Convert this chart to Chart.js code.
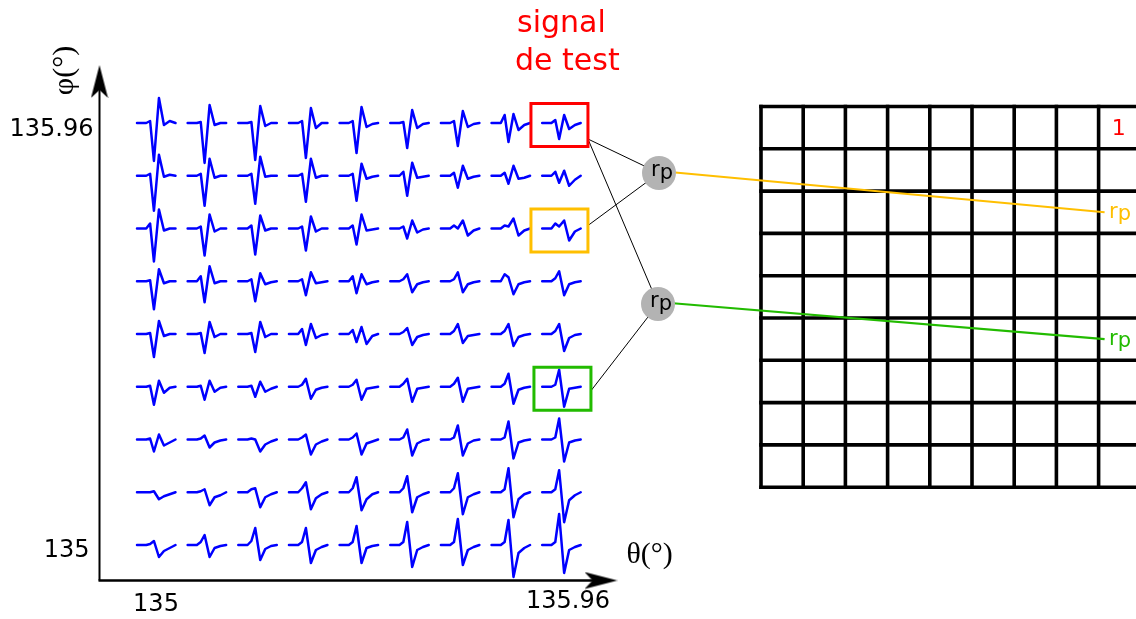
<!DOCTYPE html>
<html>
<head>
<meta charset="utf-8">
<script src="https://cdn.jsdelivr.net/npm/chart.js@4.4.1/dist/chart.umd.min.js"></script>
<style>
  html, body { margin: 0; padding: 0; background: #fff; }
  #wrap { position: relative; width: 1136px; height: 619px; }
</style>
</head>
<body>
<div id="wrap"><canvas id="c"></canvas></div>
<script>
// angles of the 9 x 9 signal grid
const thetaDeg = [135, 135.12, 135.24, 135.36, 135.48, 135.6, 135.72, 135.84, 135.96];
const phiDeg = [135.96, 135.84, 135.72, 135.6, 135.48, 135.36, 135.24, 135.12, 135]; // top -> bottom
const thetaTicks = ['135', '135.96'];
const phiTicks = ['135.96', '135'];

// each trace: [pre, 1st peak, 2nd peak, tail, late]  (+ = up)
const traces = [
  [[2,-38,25,-2,2], [1,-40,18,-2,0], [1,-37,17,-3,0], [2,-35,15,-5,0], [2,-30,16,-4,-1], [1,-25,13,-5,-1], [2,-23,12,-4,-1], [8,-19,9,-7,-2], [3,-16,8,-6,-2]],
  [[2,-35,21,-1,1], [2,-30,17,-2,0], [2,-28,19,-1,0], [2,-26,17,-2,0], [2,-25,12,-3,-1], [4,-20,13,-2,-1], [3,-12,10,-3,-1], [3,-8,10,-3,-2], [4,-7,5,-10,-4]],
  [[5,-33,19,-2,0], [2,-27,14,-3,0], [3,-26,13,-2,0], [2,-22,12,-3,0], [3,-16,14,-2,-1], [2,-10,8,-4,-1], [3,0,8,-7,-2], [3,2,10,-7,-2], [5,2,8,-12,-3]],
  [[1,-28,12,-2,0], [5,-21,15,-2,0], [2,-20,8,-3,-1], [2,-14,9,-2,-1], [5,-12,7,-3,-1], [2,7,-11,-3,-1], [2,9,-11,-3,-1], [7,4,-13,-3,-1], [3,10,-14,-3,-1]],
  [[1,-23,13,-2,0], [1,-19,12,-3,0], [1,-18,12,-3,0], [5,-11,10,-4,-1], [4,-8,7,-10,-2], [2,6,-11,-3,-1], [3,10,-9,-2,-1], [3,10,-12,-3,-1], [3,10,-17,-4,-1]],
  [[1,-18,6,-6,-1], [1,-13,6,-5,-1], [1,-10,5,-5,-2], [2,8,-12,-3,-1], [2,7,-13,-2,-1], [3,8,-15,-2,-1], [3,9,-15,-2,-1], [3,13,-17,-3,-1], [2,17,-20,-2,-1]],
  [[1,-12,5,-6,-3], [1,4,-8,-3,-1], [1,0,-12,-5,-2], [2,5,-15,-5,-2], [2,6,-15,-4,-2], [2,10,-16,-4,-1], [2,14,-16,-4,-1], [2,18,-19,-3,-1], [2,21,-22,-3,-1]],
  [[0,1,-7,-4,-2], [1,3,-13,-5,-3], [3,4,-15,-5,-2], [4,10,-17,-6,-2], [4,15,-18,-7,-2], [4,16,-20,-5,-2], [4,19,-22,-5,-2], [3,24,-25,-7,-2], [3,22,-30,-8,-3]],
  [[1,4,-12,-6,-3], [3,10,-12,-3,-1], [4,17,-15,-4,-1], [3,17,-18,-5,-2], [3,19,-18,-3,-1], [3,23,-22,-5,-2], [3,26,-20,-5,-2], [3,25,-32,-8,-3], [3,31,-28,-5,-2]]
];
// sample times of a trace (fraction of its width)
const waveTime = [0, 0.12, 0.24, 0.34, 0.44, 0.57, 0.7, 0.85, 1];

// right hand matrix
const matrixRows = 9;
const matrixCols = 9;
const matrixMarks = [{ row: 0, col: 8, text: '1' }];

// highlighted signals and the r_p nodes they feed
const picked = [
  { row: 0, col: 8, color: '#ff0000', nodes: [0, 1], anchorDy: 14 },
  { row: 2, col: 8, color: '#ffbf00', nodes: [0], anchorDy: -5 },
  { row: 5, col: 8, color: '#22bb00', nodes: [1], anchorDy: 2, dx: 3 }
];
const nodeOut = [
  { row: 2, col: 8, color: '#ffbf00' },
  { row: 5, col: 8, color: '#22bb00' }
];

// ---- layout (pixels of the 1136 x 619 figure) ----
const sig = { x0: 137, dx: 50.65, w: 38.5, y0: 123, dy: 52.75 };
const mat = { x0: 761, y0: 106.5, cw: 42.2, ch: 42.3, right: 1140 };
const nodes = [{ x: 659, y: 173 }, { x: 658, y: 304 }];
const axis = { x: 99.5, y: 580.5, top: 65, right: 617.5 };

const colX = i => sig.x0 + i * sig.dx;
const rowY = j => sig.y0 + j * sig.dy;

const line = (pts, color, width, order, extra) => Object.assign({
  data: pts, showLine: true, borderColor: color, borderWidth: width,
  pointRadius: 0, tension: 0, fill: false, order
}, extra || {});

const datasets = [];

// r_p nodes on top
datasets.push({
  data: nodes.map(n => ({ x: n.x, y: n.y })),
  showLine: false, pointRadius: 17, pointBackgroundColor: '#b3b3b3',
  pointBorderWidth: 0, order: 0
});

// signals
phiDeg.forEach((phi, j) => {
  thetaDeg.forEach((theta, i) => {
    const [pre, a, b, tail, late] = traces[j][i];
    const vals = [0, 0, 0, pre, a, b, tail, late, 0];
    const pts = waveTime.map((t, k) => ({ x: colX(i) + t * sig.w, y: rowY(j) - vals[k] }));
    datasets.push(line(pts, '#0000ff', 2.5, 5, { borderJoinStyle: 'round', borderCapStyle: 'round' }));
  });
});

// boxes around the chosen signals and their links to the nodes
const boxW = 57, boxH = 43;
picked.forEach(p => {
  const cx = colX(p.col) + sig.w / 2 - 2 + (p.dx || 0);
  const cy = rowY(p.row) + 2;
  const l = cx - boxW / 2, r = cx + boxW / 2, t = cy - boxH / 2, btm = cy + boxH / 2;
  datasets.push(line([{x:l,y:t},{x:r,y:t},{x:r,y:btm},{x:l,y:btm},{x:l,y:t}], p.color, 3, 2, { borderCapStyle: 'square' }));
  p.nodes.forEach(n => {
    datasets.push(line([{ x: r, y: cy + p.anchorDy }, { x: nodes[n].x, y: nodes[n].y }], '#000', 1, 3));
  });
});

// node outputs into the matrix
nodeOut.forEach((o, n) => {
  const ex = mat.x0 + o.col * mat.cw + 6;
  const ey = mat.y0 + (o.row + 0.5) * mat.ch;
  datasets.push(line([{ x: nodes[n].x, y: nodes[n].y - 2 }, { x: ex, y: ey }], o.color, 2.2, 3));
});

// matrix
for (let k = 0; k <= matrixRows; k++) {
  const y = mat.y0 + k * mat.ch;
  datasets.push(line([{ x: mat.x0 - 1.8, y }, { x: mat.right, y }], '#000', 3.6, 4));
}
for (let k = 0; k < matrixCols; k++) {
  const x = mat.x0 + k * mat.cw;
  datasets.push(line([{ x, y: mat.y0 - 1.8 }, { x, y: mat.y0 + matrixRows * mat.ch + 1.8 }], '#000', 3.6, 4));
}

// axes with arrow heads
const arrow = document.createElement('canvas');
arrow.width = 33; arrow.height = 18;
const ac = arrow.getContext('2d');
ac.beginPath(); ac.moveTo(33, 9); ac.lineTo(0, 0.5); ac.lineTo(8, 9); ac.lineTo(0, 17.5); ac.closePath();
ac.fillStyle = '#000'; ac.fill();

datasets.push(line([{ x: axis.x, y: axis.y }, { x: axis.x, y: axis.top + 20 }], '#000', 2, 4));
datasets.push(line([{ x: axis.x - 1, y: axis.y }, { x: axis.right - 20, y: axis.y }], '#000', 2.5, 4));
datasets.push({
  data: [{ x: axis.right - 16.5, y: axis.y }, { x: axis.x, y: axis.top + 16.5 }],
  showLine: false, pointStyle: arrow, pointRadius: 10, rotation: [0, -90], order: 1
});

// text
const SANS = '"DejaVu Sans", sans-serif';
const SERIF = '"Liberation Serif", serif';

function drawRp(ctx, x, y, size, color, center) {
  ctx.font = size + 'px ' + SANS;
  ctx.fillStyle = color;
  ctx.textAlign = 'left';
  const wr = ctx.measureText('r').width, wp = ctx.measureText('p').width;
  const left = center ? x - (wr + wp) / 2 : x;
  ctx.fillText('r', left, y);
  ctx.fillText('p', left + wr, y + 2.5);
}

const labelPlugin = {
  id: 'labels',
  afterDatasetsDraw(chart) {
    const { ctx, scales } = chart;
    const X = v => scales.x.getPixelForValue(v), Y = v => scales.y.getPixelForValue(v);
    const text = (s, x, y, font, color, align) => {
      ctx.font = font; ctx.fillStyle = color; ctx.textAlign = align; ctx.textBaseline = 'alphabetic';
      ctx.fillText(s, X(x), Y(y));
    };
    ctx.save();
    text('signal', 517, 31.5, '30px ' + SANS, '#ff0000', 'left');
    text('de test', 515, 70, '30px ' + SANS, '#ff0000', 'left');

    text(phiTicks[0], 93.5, rowY(0) + 12.8, '24px ' + SANS, '#000', 'right');
    text(phiTicks[1], 89.5, rowY(8) + 12.3, '24px ' + SANS, '#000', 'right');
    text(thetaTicks[0], 156, 610.7, '24px ' + SANS, '#000', 'center');
    text(thetaTicks[1], 568, 608.3, '24px ' + SANS, '#000', 'center');

    text('\u03b8(\u00b0)', 626.5, 563.3, '30px ' + SERIF, '#000', 'left');
    ctx.save();
    ctx.translate(X(72.5), Y(70.5));
    ctx.rotate(-Math.PI / 2);
    ctx.font = '30px ' + SERIF; ctx.fillStyle = '#000'; ctx.textAlign = 'center';
    ctx.fillText('\u03c6(\u00b0)', 0, 0);
    ctx.restore();

    matrixMarks.forEach(m => {
      text(m.text, mat.x0 + (m.col + 0.5) * mat.cw - 1, mat.y0 + m.row * mat.ch + 28, '22px ' + SANS, '#ff0000', 'center');
    });
    nodes.forEach(n => drawRp(ctx, X(n.x + 3), Y(n.y + 3), 21, '#000', true));
    nodeOut.forEach(o => {
      drawRp(ctx, X(mat.x0 + o.col * mat.cw + 10.5), Y(mat.y0 + (o.row + 0.5) * mat.ch + 5.5), 21, o.color, false);
    });
    ctx.restore();
  }
};

new Chart(document.getElementById('c'), {
  type: 'scatter',
  data: { datasets },
  options: {
    responsive: true,
    maintainAspectRatio: false,
    animation: false,
    events: [],
    layout: { padding: 0, autoPadding: false },
    plugins: { legend: { display: false }, tooltip: { enabled: false } },
    scales: {
      x: { type: 'linear', display: false, min: 0, max: 1136 },
      y: { type: 'linear', display: false, min: 0, max: 619, reverse: true }
    }
  },
  plugins: [labelPlugin]
});
</script>
</body>
</html>
